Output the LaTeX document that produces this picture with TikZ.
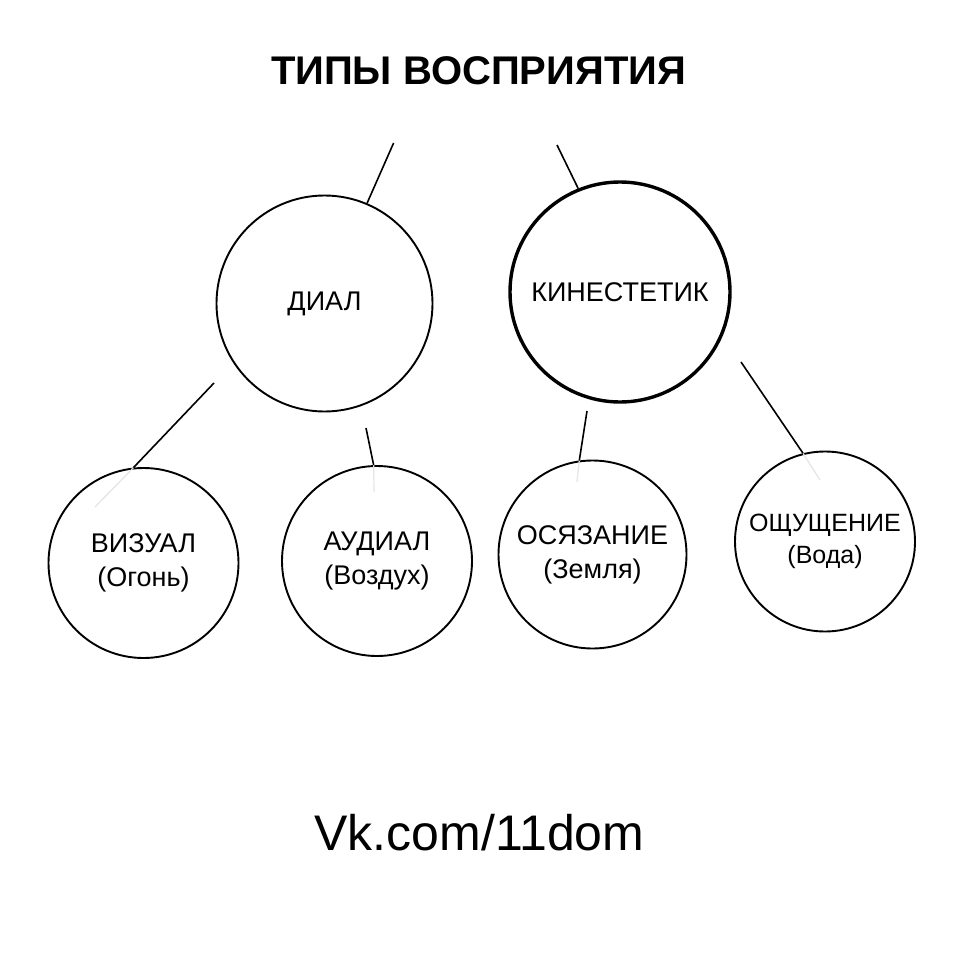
\documentclass[tikz,border=0pt]{standalone}
\usepackage{fontspec}
\setmainfont{Liberation Sans}
\begin{document}
\begin{tikzpicture}[x=1pt,y=-1pt,
  bubble/.style={circle,draw=black,line width=1.9pt,inner sep=0pt,align=center,
    font=\fontsize{27}{34}\selectfont},
  link/.style={draw=black,line width=1.6pt},
  ghost/.style={draw=black!10,line width=1.2pt}]
\useasboundingbox[fill=white] (0,0) rectangle (960,960);
\node[font=\fontsize{40}{48}\selectfont\bfseries] (title) at (478.5,71) {ТИПЫ ВОСПРИЯТИЯ};
\node (dial) [bubble,minimum size=216pt] at (324.5,303.5) {ДИАЛ};
\node (kin) [bubble,minimum size=220pt,line width=3.4pt] at (620,292) {КИНЕСТЕТИК};
\node (viz) [bubble,minimum size=190pt] at (143.5,563) {ВИЗУАЛ\\(Огонь)};
\node (aud) [bubble,minimum size=190pt] at (377,561) {АУДИАЛ\\(Воздух)};
\node (osj) [bubble,minimum size=188pt] at (592.5,554.5) {ОСЯЗАНИЕ\\(Земля)};
\node (osh) [bubble,minimum size=180pt,font=\fontsize{25}{32}\selectfont] at (825,541.5) {ОЩУЩЕНИЕ\\(Вода)};
\node[font=\fontsize{50}{58}\selectfont,anchor=base] (site) at (479.5,850) {Vk.com/11dom};
% free ends of the connectors
\coordinate (fDial) at (393.6,143);
\coordinate (fKin) at (557,145);
\coordinate (fViz) at (214,383);
\coordinate (fAud) at (366,428);
\coordinate (fOsj) at (587,411);
\coordinate (fOsh) at (741,362);
% faint inner traces
\coordinate (gViz) at (95,507);
\coordinate (gOsj) at (577,482);
\coordinate (gOsh) at (820,480);
\coordinate (gAud) at (374,492);
\draw[ghost] (viz.96.9) -- (gViz);
\draw[ghost] (osj.98.2) -- (gOsj);
\draw[ghost] (osh.104.3) -- (gOsh);
\draw[ghost] (aud.92.4) -- (gAud);
% connectors
\draw[link] (fDial) -- (dial.67.8);
\draw[link] (fKin) -- (kin.112.9);
\draw[link] (fViz) -- (viz.96.9);
\draw[link] (fAud) -- (aud.92.4);
\draw[link] (fOsj) -- (osj.98.2);
\draw[link] (fOsh) -- (osh.104.3);
\end{tikzpicture}
\end{document}
